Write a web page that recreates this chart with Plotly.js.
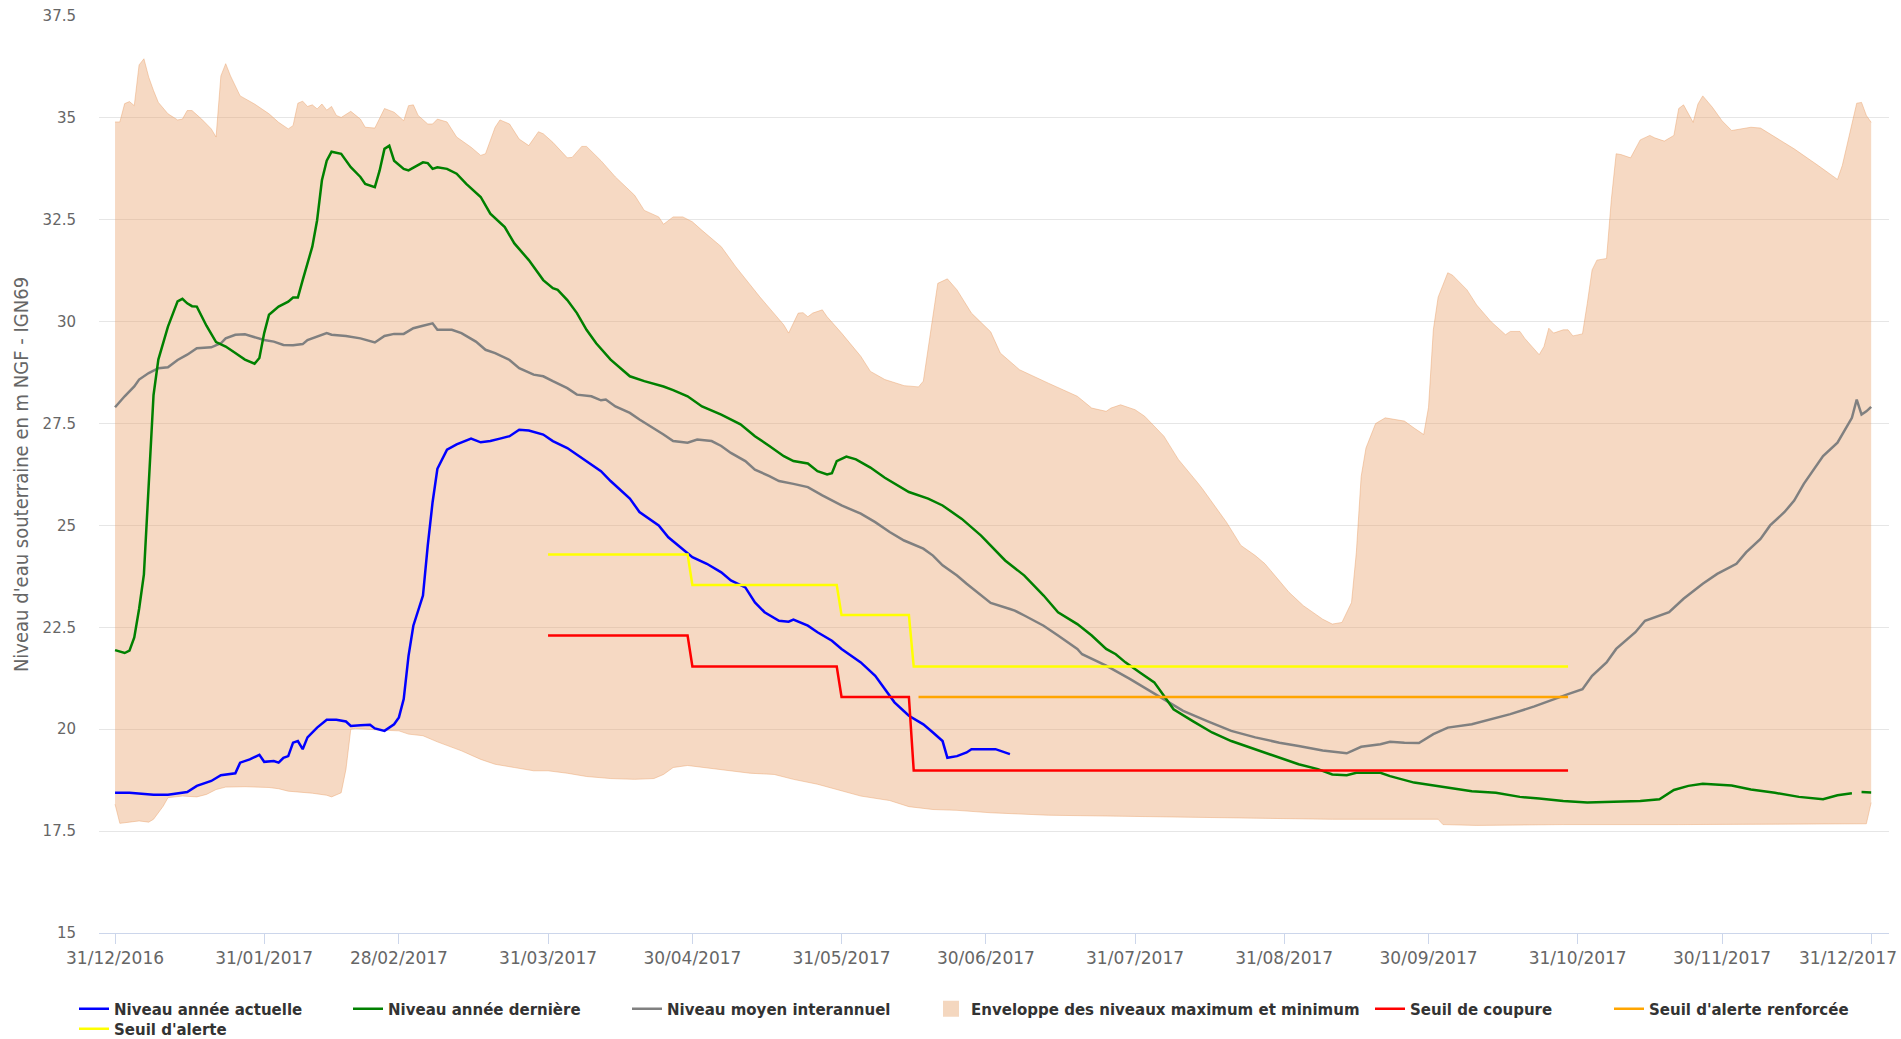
<!DOCTYPE html>
<html>
<head>
<meta charset="utf-8">
<script src="https://cdn.plot.ly/plotly-3.0.1.min.js"></script>
<style>
  html, body { margin: 0; padding: 0; background: #fff; }
  #graph { width: 1901px; height: 1039px; }
</style>
</head>
<body>
<div id="graph"></div>
<script>
// x axis ticks (month ends) and y axis ticks
var tickDates = ['2016-12-31','2017-01-31','2017-02-28','2017-03-31','2017-04-30','2017-05-31','2017-06-30',
                 '2017-07-31','2017-08-31','2017-09-30','2017-10-31','2017-11-30','2017-12-31'];
var tickLabels = ['31/12/2016','31/01/2017','28/02/2017','31/03/2017','30/04/2017','31/05/2017','30/06/2017',
                  '31/07/2017','31/08/2017','30/09/2017','31/10/2017','30/11/2017','31/12/2017'];
var yTicks = [15, 17.5, 20, 22.5, 25, 27.5, 30, 32.5, 35, 37.5];
var yTickLabels = ['15','17.5','20','22.5','25','27.5','30','32.5','35','37.5'];

// Enveloppe des niveaux maximum et minimum
var envTopDates = ['2016-12-31','2017-01-01','2017-01-02','2017-01-03','2017-01-04','2017-01-05','2017-01-06','2017-01-07','2017-01-08','2017-01-09',
  '2017-01-11','2017-01-13','2017-01-14','2017-01-15','2017-01-16','2017-01-18','2017-01-20','2017-01-21','2017-01-22','2017-01-23',
  '2017-01-24','2017-01-26','2017-01-29','2017-02-01','2017-02-03','2017-02-05','2017-02-06','2017-02-07','2017-02-08','2017-02-09',
  '2017-02-10','2017-02-11','2017-02-12','2017-02-13','2017-02-14','2017-02-15','2017-02-16','2017-02-18','2017-02-20','2017-02-21',
  '2017-02-23','2017-02-25','2017-02-27','2017-03-01','2017-03-02','2017-03-03','2017-03-04','2017-03-06','2017-03-07','2017-03-08',
  '2017-03-10','2017-03-12','2017-03-15','2017-03-17','2017-03-18','2017-03-20','2017-03-21','2017-03-23','2017-03-25','2017-03-27',
  '2017-03-29','2017-03-30','2017-04-01','2017-04-04','2017-04-05','2017-04-07','2017-04-08','2017-04-11','2017-04-14','2017-04-18',
  '2017-04-20','2017-04-23','2017-04-24','2017-04-26','2017-04-28','2017-04-30','2017-05-02','2017-05-06','2017-05-09','2017-05-14',
  '2017-05-19','2017-05-20','2017-05-22','2017-05-23','2017-05-24','2017-05-25','2017-05-27','2017-05-28','2017-05-31','2017-06-04',
  '2017-06-06','2017-06-09','2017-06-13','2017-06-16','2017-06-17','2017-06-19','2017-06-20','2017-06-22','2017-06-24','2017-06-27',
  '2017-07-01','2017-07-03','2017-07-07','2017-07-13','2017-07-19','2017-07-22','2017-07-25','2017-07-26','2017-07-28','2017-07-31',
  '2017-08-02','2017-08-06','2017-08-09','2017-08-13','2017-08-14','2017-08-19','2017-08-22','2017-08-25','2017-08-27','2017-09-01',
  '2017-09-04','2017-09-08','2017-09-10','2017-09-12','2017-09-14','2017-09-15','2017-09-16','2017-09-17','2017-09-19','2017-09-21',
  '2017-09-25','2017-09-27','2017-09-29','2017-09-30','2017-10-01','2017-10-02','2017-10-04','2017-10-05','2017-10-08','2017-10-10',
  '2017-10-13','2017-10-16','2017-10-17','2017-10-19','2017-10-20','2017-10-23','2017-10-24','2017-10-25','2017-10-26','2017-10-28',
  '2017-10-29','2017-10-30','2017-11-01','2017-11-02','2017-11-03','2017-11-04','2017-11-06','2017-11-07','2017-11-08','2017-11-09',
  '2017-11-11','2017-11-13','2017-11-15','2017-11-16','2017-11-18','2017-11-20','2017-11-21','2017-11-22','2017-11-24','2017-11-25',
  '2017-11-26','2017-11-28','2017-11-30','2017-12-02','2017-12-04','2017-12-06','2017-12-08','2017-12-10','2017-12-15','2017-12-20',
  '2017-12-23','2017-12-24','2017-12-25','2017-12-27','2017-12-28','2017-12-29','2017-12-30','2017-12-31'];
var envTop = [34.9,34.9,35.35,35.4,35.3,36.3,36.45,36.0,35.67,35.38,
  35.1,34.95,34.97,35.18,35.18,34.97,34.73,34.53,36.03,36.33,
  36.03,35.54,35.34,35.1,34.89,34.73,34.81,35.36,35.41,35.28,
  35.32,35.22,35.34,35.19,35.28,35.06,35.01,35.16,34.97,34.77,
  34.75,35.23,35.14,34.93,35.3,35.32,35.06,34.85,34.85,34.97,
  34.9,34.53,34.28,34.08,34.12,34.77,34.95,34.85,34.48,34.32,
  34.66,34.61,34.4,34.02,34.03,34.3,34.3,33.95,33.55,33.1,
  32.73,32.57,32.39,32.57,32.57,32.45,32.24,31.84,31.35,30.61,
  29.92,29.72,30.21,30.22,30.12,30.21,30.29,30.12,29.72,29.15,
  28.78,28.58,28.43,28.4,28.54,30.21,30.94,31.05,30.78,30.21,
  29.75,29.23,28.82,28.49,28.17,27.88,27.8,27.88,27.96,27.84,
  27.68,27.19,26.62,26.05,25.9,25.08,24.51,24.26,24.06,23.36,
  23.03,22.7,22.58,22.62,23.11,24.34,26.2,26.9,27.5,27.64,
  27.56,27.39,27.23,27.9,29.8,30.6,31.2,31.14,30.78,30.41,
  30.0,29.68,29.76,29.76,29.59,29.19,29.39,29.84,29.72,29.8,
  29.8,29.65,29.7,30.45,31.27,31.51,31.55,33.0,34.12,34.1,
  34.02,34.46,34.57,34.51,34.43,34.57,35.23,35.32,34.89,35.34,
  35.54,35.26,34.93,34.69,34.73,34.77,34.75,34.61,34.24,33.83,
  33.57,33.49,33.83,34.85,35.36,35.38,35.06,34.89];

var envBotDates = ['2016-12-31','2017-01-01','2017-01-03','2017-01-05','2017-01-07','2017-01-08','2017-01-10','2017-01-11','2017-01-14','2017-01-17',
  '2017-01-19','2017-01-21','2017-01-23','2017-01-27','2017-02-01','2017-02-03','2017-02-05','2017-02-10','2017-02-13','2017-02-14',
  '2017-02-16','2017-02-17','2017-02-18','2017-02-19','2017-02-24','2017-02-28','2017-03-02','2017-03-05','2017-03-08','2017-03-13',
  '2017-03-17','2017-03-20','2017-03-24','2017-03-28','2017-03-31','2017-04-04','2017-04-08','2017-04-13','2017-04-18','2017-04-22',
  '2017-04-24','2017-04-26','2017-04-29','2017-05-02','2017-05-07','2017-05-12','2017-05-17','2017-05-21','2017-05-26','2017-05-31',
  '2017-06-04','2017-06-10','2017-06-14','2017-06-19','2017-06-24','2017-07-01','2017-07-13','2017-07-25','2017-08-06','2017-08-18',
  '2017-08-30','2017-09-10','2017-10-02','2017-10-03','2017-10-10','2017-10-28','2017-11-21','2017-12-15','2017-12-30','2017-12-31'];
var envBot = [18.16,17.69,17.72,17.75,17.72,17.79,18.11,18.32,18.36,18.34,
  18.4,18.52,18.58,18.59,18.57,18.54,18.48,18.43,18.38,18.34,
  18.44,19.02,20.0,20.02,19.98,19.96,19.88,19.84,19.69,19.47,
  19.26,19.14,19.06,18.98,18.98,18.92,18.84,18.79,18.77,18.79,
  18.89,19.06,19.11,19.07,19.0,18.92,18.89,18.77,18.65,18.48,
  18.36,18.25,18.1,18.03,18.01,17.95,17.89,17.87,17.85,17.83,
  17.81,17.79,17.79,17.66,17.64,17.66,17.66,17.68,17.68,18.2];

// Niveau année actuelle
var currentDates = ['2016-12-31','2017-01-03','2017-01-08','2017-01-11','2017-01-15','2017-01-17','2017-01-20','2017-01-22','2017-01-25','2017-01-26',
  '2017-01-28','2017-01-30','2017-01-31','2017-02-02','2017-02-03','2017-02-04','2017-02-05','2017-02-06','2017-02-07','2017-02-08',
  '2017-02-09','2017-02-11','2017-02-13','2017-02-15','2017-02-17','2017-02-18','2017-02-20','2017-02-22','2017-02-23','2017-02-25',
  '2017-02-27','2017-02-28','2017-03-01','2017-03-02','2017-03-03','2017-03-05','2017-03-06','2017-03-07','2017-03-08','2017-03-10',
  '2017-03-12','2017-03-15','2017-03-17','2017-03-19','2017-03-21','2017-03-23','2017-03-25','2017-03-27','2017-03-30','2017-04-01',
  '2017-04-04','2017-04-06','2017-04-08','2017-04-11','2017-04-13','2017-04-17','2017-04-19','2017-04-23','2017-04-25','2017-04-28',
  '2017-04-30','2017-05-03','2017-05-06','2017-05-08','2017-05-11','2017-05-13','2017-05-15','2017-05-18','2017-05-20','2017-05-21',
  '2017-05-24','2017-05-26','2017-05-29','2017-05-31','2017-06-04','2017-06-07','2017-06-09','2017-06-11','2017-06-14','2017-06-17',
  '2017-06-19','2017-06-21','2017-06-22','2017-06-24','2017-06-26','2017-06-27','2017-07-02','2017-07-03','2017-07-05'];
var currentLevel = [18.44,18.44,18.39,18.39,18.46,18.61,18.73,18.87,18.92,19.18,
  19.26,19.37,19.2,19.22,19.18,19.3,19.34,19.67,19.71,19.51,
  19.8,20.04,20.23,20.23,20.19,20.08,20.1,20.11,20.02,19.96,
  20.12,20.29,20.74,21.8,22.54,23.28,24.51,25.57,26.39,26.86,
  26.99,27.13,27.04,27.07,27.13,27.19,27.35,27.33,27.23,27.07,
  26.9,26.74,26.58,26.33,26.09,25.66,25.33,25.0,24.71,24.43,
  24.22,24.06,23.85,23.65,23.48,23.11,22.87,22.66,22.64,22.69,
  22.54,22.38,22.17,21.97,21.64,21.31,20.98,20.66,20.33,20.12,
  19.92,19.71,19.3,19.34,19.43,19.51,19.51,19.47,19.39];

// Niveau année dernière
var lastYearDates = ['2016-12-31','2017-01-02','2017-01-03','2017-01-04','2017-01-05','2017-01-06','2017-01-07','2017-01-08','2017-01-09','2017-01-10',
  '2017-01-11','2017-01-13','2017-01-14','2017-01-15','2017-01-16','2017-01-17','2017-01-19','2017-01-21','2017-01-23','2017-01-25',
  '2017-01-27','2017-01-29','2017-01-30','2017-01-31','2017-02-01','2017-02-03','2017-02-05','2017-02-06','2017-02-07','2017-02-08',
  '2017-02-10','2017-02-11','2017-02-12','2017-02-13','2017-02-14','2017-02-16','2017-02-18','2017-02-20','2017-02-21','2017-02-23',
  '2017-02-24','2017-02-25','2017-02-26','2017-02-27','2017-03-01','2017-03-02','2017-03-04','2017-03-05','2017-03-06','2017-03-07',
  '2017-03-08','2017-03-10','2017-03-12','2017-03-14','2017-03-17','2017-03-19','2017-03-22','2017-03-24','2017-03-27','2017-03-30',
  '2017-04-01','2017-04-02','2017-04-04','2017-04-06','2017-04-08','2017-04-10','2017-04-13','2017-04-16','2017-04-17','2017-04-20',
  '2017-04-24','2017-04-26','2017-04-29','2017-05-02','2017-05-06','2017-05-10','2017-05-13','2017-05-16','2017-05-19','2017-05-21',
  '2017-05-24','2017-05-26','2017-05-28','2017-05-29','2017-05-30','2017-06-01','2017-06-03','2017-06-06','2017-06-09','2017-06-14',
  '2017-06-18','2017-06-21','2017-06-25','2017-06-29','2017-07-01','2017-07-04','2017-07-08','2017-07-12','2017-07-15','2017-07-19',
  '2017-07-22','2017-07-25','2017-07-27','2017-07-29','2017-08-01','2017-08-04','2017-08-06','2017-08-08','2017-08-12','2017-08-16',
  '2017-08-20','2017-08-25','2017-08-29','2017-09-03','2017-09-07','2017-09-10','2017-09-13','2017-09-15','2017-09-20','2017-09-22',
  '2017-09-27','2017-10-04','2017-10-09','2017-10-14','2017-10-19','2017-10-23','2017-10-28','2017-11-02','2017-11-07','2017-11-13',
  '2017-11-17','2017-11-20','2017-11-23','2017-11-26','2017-12-02','2017-12-06','2017-12-11','2017-12-16','2017-12-21','2017-12-24',
  '2017-12-27','2017-12-28','2017-12-29','2017-12-31'];
var lastYearLevel = [21.94,21.87,21.93,22.25,22.95,23.8,26.0,28.2,29.07,29.47,
  29.88,30.5,30.56,30.45,30.38,30.37,29.9,29.5,29.39,29.23,
  29.07,28.97,29.11,29.72,30.17,30.37,30.49,30.59,30.59,31.02,
  31.84,32.49,33.47,33.95,34.17,34.12,33.79,33.55,33.38,33.3,
  33.71,34.24,34.32,33.95,33.75,33.71,33.83,33.91,33.89,33.75,
  33.79,33.75,33.63,33.38,33.06,32.65,32.32,31.92,31.51,31.02,
  30.82,30.78,30.53,30.21,29.8,29.47,29.07,28.78,28.66,28.54,
  28.41,28.32,28.17,27.92,27.72,27.48,27.19,26.95,26.7,26.58,
  26.52,26.33,26.25,26.28,26.58,26.69,26.62,26.42,26.17,25.82,
  25.66,25.49,25.16,24.75,24.5,24.14,23.77,23.28,22.87,22.58,
  22.3,21.97,21.84,21.64,21.39,21.15,20.82,20.49,20.2,19.92,
  19.71,19.51,19.34,19.14,19.02,18.89,18.87,18.93,18.93,18.85,
  18.69,18.57,18.48,18.44,18.34,18.3,18.24,18.2,18.22,18.24,
  18.28,18.51,18.61,18.66,18.62,18.52,18.44,18.34,18.28,18.38,
  18.43,null,18.46,18.45];

// Niveau moyen interannuel
var meanDates = ['2016-12-31','2017-01-02','2017-01-04','2017-01-05','2017-01-07','2017-01-09','2017-01-11','2017-01-13','2017-01-15','2017-01-17',
  '2017-01-20','2017-01-22','2017-01-23','2017-01-25','2017-01-27','2017-01-29','2017-01-31','2017-02-02','2017-02-04','2017-02-06',
  '2017-02-08','2017-02-09','2017-02-11','2017-02-13','2017-02-14','2017-02-17','2017-02-20','2017-02-23','2017-02-25','2017-02-27',
  '2017-03-01','2017-03-03','2017-03-05','2017-03-07','2017-03-08','2017-03-11','2017-03-13','2017-03-16','2017-03-18','2017-03-20',
  '2017-03-23','2017-03-25','2017-03-28','2017-03-30','2017-04-01','2017-04-04','2017-04-06','2017-04-09','2017-04-11','2017-04-12',
  '2017-04-14','2017-04-17','2017-04-19','2017-04-22','2017-04-24','2017-04-26','2017-04-29','2017-05-01','2017-05-04','2017-05-06',
  '2017-05-08','2017-05-11','2017-05-13','2017-05-16','2017-05-18','2017-05-21','2017-05-24','2017-05-27','2017-05-31','2017-06-04',
  '2017-06-07','2017-06-10','2017-06-13','2017-06-17','2017-06-19','2017-06-21','2017-06-24','2017-06-26','2017-06-29','2017-07-01',
  '2017-07-05','2017-07-06','2017-07-08','2017-07-12','2017-07-15','2017-07-19','2017-07-20','2017-07-25','2017-07-30','2017-08-03',
  '2017-08-06','2017-08-10','2017-08-15','2017-08-20','2017-08-25','2017-08-30','2017-09-03','2017-09-08','2017-09-13','2017-09-16',
  '2017-09-20','2017-09-22','2017-09-25','2017-09-28','2017-10-01','2017-10-04','2017-10-09','2017-10-13','2017-10-17','2017-10-22',
  '2017-10-26','2017-10-29','2017-11-01','2017-11-03','2017-11-06','2017-11-08','2017-11-12','2017-11-14','2017-11-19','2017-11-22',
  '2017-11-26','2017-11-29','2017-12-03','2017-12-05','2017-12-08','2017-12-10','2017-12-13','2017-12-15','2017-12-17','2017-12-21',
  '2017-12-24','2017-12-26','2017-12-27','2017-12-28','2017-12-29','2017-12-30','2017-12-31'];
var meanLevel = [27.9,28.17,28.41,28.58,28.74,28.86,28.88,29.06,29.19,29.35,
  29.37,29.47,29.59,29.68,29.69,29.62,29.55,29.51,29.43,29.42,
  29.45,29.55,29.64,29.72,29.68,29.65,29.59,29.49,29.65,29.7,
  29.7,29.84,29.9,29.96,29.8,29.8,29.72,29.51,29.31,29.23,
  29.06,28.86,28.7,28.66,28.54,28.37,28.21,28.17,28.07,28.09,
  27.92,27.76,27.6,27.39,27.23,27.07,27.03,27.11,27.07,26.95,
  26.78,26.58,26.37,26.21,26.09,26.02,25.94,25.74,25.49,25.29,
  25.08,24.84,24.63,24.43,24.26,24.02,23.77,23.57,23.28,23.1,
  22.95,22.91,22.79,22.54,22.3,21.97,21.84,21.56,21.23,20.94,
  20.74,20.45,20.2,19.96,19.8,19.67,19.59,19.48,19.41,19.57,
  19.63,19.69,19.67,19.66,19.88,20.04,20.12,20.25,20.37,20.56,
  20.74,20.86,20.98,21.31,21.64,21.97,22.38,22.66,22.87,23.2,
  23.57,23.81,24.06,24.34,24.67,25.0,25.33,25.61,26.02,26.7,
  27.03,27.43,27.64,28.09,27.72,27.8,27.91];

// Seuils
var alertDates = ['2017-03-31','2017-04-29','2017-04-30','2017-05-30','2017-05-31','2017-06-14','2017-06-15','2017-10-29'];
var alertLevel = [24.29,24.29,23.54,23.54,22.8,22.8,21.54,21.54];
var cutDates = ['2017-03-31','2017-04-29','2017-04-30','2017-05-30','2017-05-31','2017-06-14','2017-06-15','2017-10-29'];
var cutLevel = [22.3,22.3,21.54,21.54,20.79,20.79,18.99,18.99];
var reinforcedDates = ['2017-06-16','2017-10-29'];
var reinforcedLevel = [20.79,20.79];

var envFill = 'rgba(232,160,104,0.4)';
var envLine = 'rgba(232,160,104,0.45)';

var data = [
  {x: envBotDates, y: envBot, mode: 'lines', line: {color: envLine, width: 1},
   showlegend: false, legendgroup: 'env', hoverinfo: 'skip'},
  {x: envTopDates, y: envTop, mode: 'lines', fill: 'tonexty', fillcolor: envFill,
   line: {color: envLine, width: 1}, showlegend: false, legendgroup: 'env', hoverinfo: 'skip'},
  // legend entry only (square swatch like the original)
  {x: [null], y: [null], mode: 'markers', name: 'Enveloppe des niveaux maximum et minimum',
   marker: {symbol: 'square', size: 16, color: 'rgb(244,215,191)'}, legendgroup: 'env', legend: 'legend4'},
  {x: meanDates, y: meanLevel, mode: 'lines', name: 'Niveau moyen interannuel',
   line: {color: '#808080', width: 2.5}, legend: 'legend3'},
  {x: lastYearDates, y: lastYearLevel, mode: 'lines', name: 'Niveau année dernière',
   line: {color: '#008000', width: 2.5}, connectgaps: false, legend: 'legend2'},
  {x: currentDates, y: currentLevel, mode: 'lines', name: 'Niveau année actuelle',
   line: {color: '#0000ff', width: 2.5}, legend: 'legend'},
  {x: cutDates, y: cutLevel, mode: 'lines', name: 'Seuil de coupure',
   line: {color: '#ff0000', width: 2.5}, legend: 'legend5'},
  {x: reinforcedDates, y: reinforcedLevel, mode: 'lines', name: "Seuil d'alerte renforcée",
   line: {color: '#ffa500', width: 2.5}, legend: 'legend6'},
  {x: alertDates, y: alertLevel, mode: 'lines', name: "Seuil d'alerte",
   line: {color: '#ffff00', width: 2.5}, legend: 'legend7'}
];

var legendFont = {family: 'DejaVu Sans', size: 15, color: '#333333', weight: 'bold'};
function legendAt(px, py) {
  return {x: px / 1901, y: 1 - py / 1039, xref: 'container', yref: 'container',
          xanchor: 'left', yanchor: 'middle', orientation: 'h',
          bgcolor: 'rgba(0,0,0,0)', borderwidth: 0, font: legendFont};
}

var tickFont = {family: 'DejaVu Sans', size: 17, color: '#666666'};
var lastTick = tickLabels.length - 1;

var layout = {
  width: 1901,
  height: 1039,
  margin: {l: 99, r: 12, t: 16, b: 106},
  paper_bgcolor: '#ffffff',
  plot_bgcolor: '#ffffff',
  font: {family: 'DejaVu Sans', color: '#666666'},
  hovermode: false,
  xaxis: {
    type: 'date',
    range: ['2016-12-27 16:00', '2018-01-03 17:00'],
    tickvals: tickDates,
    // the last label does not fit centred: it is drawn right-aligned below
    ticktext: tickLabels.slice(0, lastTick).concat(['']),
    showgrid: false,
    zeroline: false,
    showline: true,
    linecolor: '#ccd6eb',
    linewidth: 1,
    ticks: 'outside',
    ticklen: 10,
    tickcolor: '#ccd6eb',
    tickfont: tickFont
  },
  yaxis: {
    range: [15, 37.5],
    tickvals: yTicks,
    ticktext: yTickLabels,
    gridcolor: '#e6e6e6',
    gridwidth: 1,
    zeroline: false,
    showline: false,
    ticks: '',
    ticklabelstandoff: 22,
    tickfont: {family: 'DejaVu Sans', size: 15, color: '#666666'},
    title: {
      text: "Niveau d'eau souterraine en m NGF - IGN69",
      font: {family: 'DejaVu Sans Condensed, DejaVu Sans', size: 20, color: '#666666'},
      standoff: 8
    }
  },
  annotations: [{
    text: tickLabels[lastTick], xref: 'paper', yref: 'paper',
    x: (1899 - 99) / 1790, y: (933 - 958) / 917, xanchor: 'right', yanchor: 'middle',
    showarrow: false, font: tickFont
  }],
  showlegend: true,
  legend: legendAt(74, 1009),
  legend2: legendAt(348, 1009),
  legend3: legendAt(627, 1009),
  legend4: legendAt(931, 1009),
  legend5: legendAt(1370, 1009),
  legend6: legendAt(1609, 1009),
  legend7: legendAt(74, 1029)
};

Plotly.newPlot('graph', data, layout, {displayModeBar: false, staticPlot: true});
</script>
</body>
</html>
